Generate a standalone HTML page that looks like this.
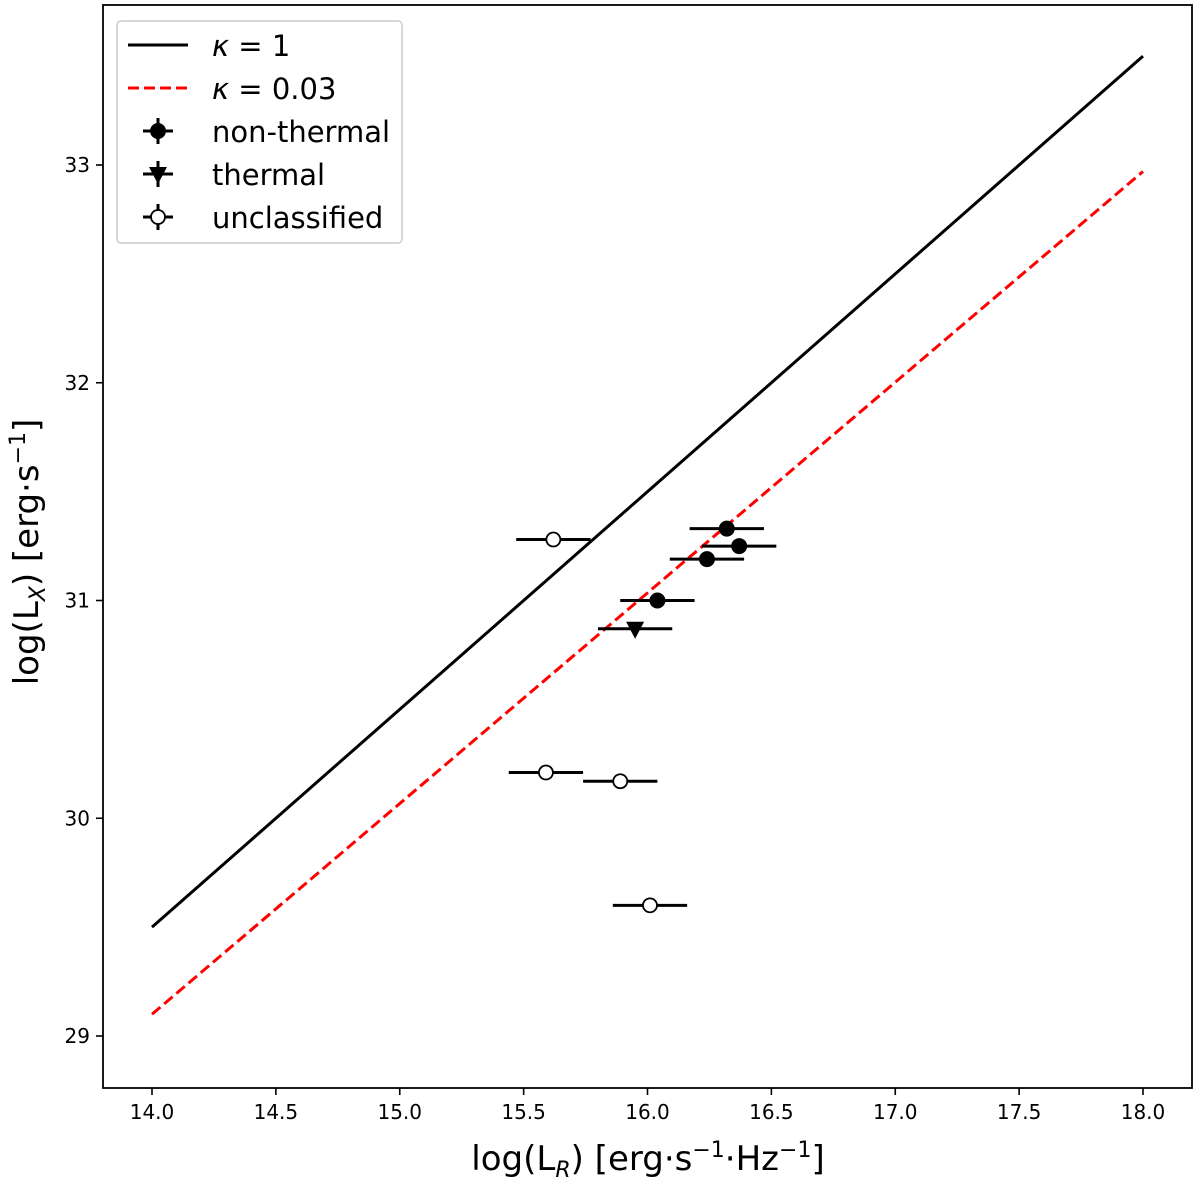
<!DOCTYPE html>
<html><head><meta charset="utf-8"><style>
body{margin:0;background:#fff;}
svg text{font-family:"DejaVu Sans","Liberation Sans",sans-serif;}
</style></head><body>
<svg id="chart" width="1200" height="1184" xmlns="http://www.w3.org/2000/svg">
<g id="plot"></g>
</svg>
<script>
const xTicks=[14.0,14.5,15.0,15.5,16.0,16.5,17.0,17.5,18.0];
const xTickLabels=["14.0","14.5","15.0","15.5","16.0","16.5","17.0","17.5","18.0"];
const yTicks=[29,30,31,32,33];
const yTickLabels=["29","30","31","32","33"];
const solidLine=[[14,29.5],[18,33.5]];
const dashedLine=[[14,29.1],[18,32.97]];
const nonThermalX=[16.32,16.37,16.24,16.04];
const nonThermalY=[31.33,31.25,31.19,31.0];
const thermalX=[15.95];
const thermalY=[30.87];
const unclassX=[15.62,15.59,15.89,16.01];
const unclassY=[31.28,30.21,30.17,29.6];
const xErr=0.15;

const NS="http://www.w3.org/2000/svg";
const L=103,R=1192,T=5,B=1088;
function sx(v){return 152+(v-14)*247.75;}
function sy(v){return 165+(33-v)*217.75;}
const g=document.getElementById('plot');
function mk(tag,attrs,parent){const e=document.createElementNS(NS,tag);for(const k in attrs)e.setAttribute(k,attrs[k]);(parent||g).appendChild(e);return e;}

let l1=mk('line',{x1:sx(solidLine[0][0]),y1:sy(solidLine[0][1]),x2:sx(solidLine[1][0]),y2:sy(solidLine[1][1]),stroke:'#000','stroke-width':3});


let l2=mk('line',{x1:sx(dashedLine[0][0]),y1:sy(dashedLine[0][1]),x2:sx(dashedLine[1][0]),y2:sy(dashedLine[1][1]),stroke:'#f00','stroke-width':3,'stroke-dasharray':'11,5'});



function errbar(x,y){
  let e=mk('line',{x1:sx(x-xErr),x2:sx(x+xErr),y1:sy(y),y2:sy(y),stroke:'#000','stroke-width':3});
  
  
}
nonThermalX.forEach((x,i)=>{errbar(x,nonThermalY[i]);
  let c=mk('circle',{cx:sx(x),cy:sy(nonThermalY[i]),r:8,fill:'#000'});
  
  });
thermalX.forEach((x,i)=>{errbar(x,thermalY[i]);
  const px=sx(x),py=sy(thermalY[i]);
  let p=mk('polygon',{points:`${px-9},${py-7} ${px+9},${py-7} ${px},${py+10}`,fill:'#000'});
  
  });
unclassX.forEach((x,i)=>{errbar(x,unclassY[i]);
  let c=mk('circle',{cx:sx(x),cy:sy(unclassY[i]),r:7,fill:'#fff',stroke:'#000','stroke-width':1.8});
  
  });

let f=mk('rect',{x:L,y:T,width:R-L,height:B-T,fill:'none',stroke:'#000','stroke-width':1.8});



xTicks.forEach((v,i)=>{
  mk('line',{x1:sx(v),x2:sx(v),y1:B,y2:B+7,stroke:'#000','stroke-width':1.6});
  let t=mk('text',{x:sx(v),y:B+31,'font-size':20,'text-anchor':'middle'});t.textContent=xTickLabels[i];
  
  
});
yTicks.forEach((v,i)=>{
  mk('line',{x1:L-7,x2:L,y1:sy(v),y2:sy(v),stroke:'#000','stroke-width':1.6});
  let t=mk('text',{x:L-13,y:sy(v)+7,'font-size':20,'text-anchor':'end'});t.textContent=yTickLabels[i];
  
  
});
</script>
<svg width="1200" height="1184" style="position:absolute;left:0;top:0" xmlns="http://www.w3.org/2000/svg">
<text x="648" y="1170" font-size="34" text-anchor="middle">log(L<tspan font-size="22" dy="7" font-style="italic">R</tspan><tspan dy="-7">) [erg·s</tspan><tspan font-size="22" dy="-13">−1</tspan><tspan dy="13">·Hz</tspan><tspan font-size="22" dy="-13">−1</tspan><tspan dy="13">]</tspan></text>
<text transform="translate(38,552) rotate(-90)" font-size="34" text-anchor="middle">log(L<tspan font-size="22" dy="7" font-style="italic">X</tspan><tspan dy="-7">) [erg·s</tspan><tspan font-size="22" dy="-13">−1</tspan><tspan dy="13">]</tspan></text>
<g>
<rect x="117" y="21" width="285" height="222" rx="4" fill="#fff" stroke="#ccc" stroke-width="1.5"/>
<line x1="128" y1="45" x2="188" y2="45" stroke="#000" stroke-width="3"/>
<text x="212" y="56" font-size="29"><tspan font-style="italic">κ</tspan> = 1</text>
<line x1="128" y1="88" x2="188" y2="88" stroke="#f00" stroke-width="3" stroke-dasharray="11,5"/>
<text x="212" y="99" font-size="29"><tspan font-style="italic">κ</tspan> = 0.03</text>
<line x1="143" y1="131" x2="173" y2="131" stroke="#000" stroke-width="3"/><line x1="158" y1="118" x2="158" y2="144" stroke="#000" stroke-width="3"/><circle cx="158" cy="131" r="8"/>
<text x="212" y="142" font-size="29">non-thermal</text>
<line x1="143" y1="174" x2="173" y2="174" stroke="#000" stroke-width="3"/><line x1="158" y1="161" x2="158" y2="187" stroke="#000" stroke-width="3"/><polygon points="149,167 167,167 158,184"/>
<text x="212" y="185" font-size="29">thermal</text>
<line x1="143" y1="217" x2="173" y2="217" stroke="#000" stroke-width="3"/><line x1="158" y1="204" x2="158" y2="230" stroke="#000" stroke-width="3"/><circle cx="158" cy="217" r="7" fill="#fff" stroke="#000" stroke-width="1.8"/>
<text x="212" y="228" font-size="29">unclassified</text>
</g>
</svg>
</body></html>
